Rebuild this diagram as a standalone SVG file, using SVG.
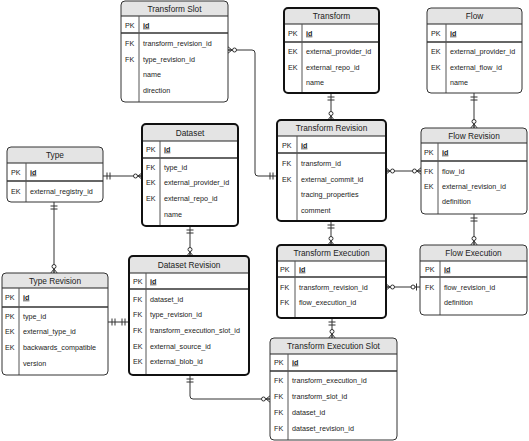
<svg xmlns="http://www.w3.org/2000/svg" width="529" height="441" viewBox="0 0 529 441">
<style>
text{font-family:"Liberation Sans",Arial,sans-serif;fill:#222}
.t{font-size:8.3px;text-anchor:middle}
.k,.f{font-size:7.2px}
.p{font-size:7.2px;font-weight:bold;text-decoration:underline}
.bg{fill:#fff;stroke:none}
.hd{fill:#e4e4e4;stroke:none}
.hl{stroke:#222;stroke-width:1}
.sp{stroke:#666;stroke-width:2}
.dv{stroke:#555;stroke-width:1}
.o1{fill:none;stroke:#333;stroke-width:1}
.o2{fill:none;stroke:#111;stroke-width:2}
.c{fill:none;stroke:#333;stroke-width:1}
</style>
<defs>
<marker id="one" viewBox="-10 -5 11 10" refX="0" refY="0" markerWidth="11" markerHeight="10" markerUnits="userSpaceOnUse" orient="auto-start-reverse"><path d="M-4,-3.5V3.5M-7,-3.5V3.5" fill="none" stroke="#333" stroke-width="1"/></marker>
<marker id="zmany" viewBox="-11 -5 12 10" refX="0" refY="0" markerWidth="12" markerHeight="10" markerUnits="userSpaceOnUse" orient="auto-start-reverse"><path d="M0,-3.2L-4,0L0,3.2M-4,0H0" fill="none" stroke="#333" stroke-width="1"/><circle cx="-6.5" cy="0" r="2" fill="#fff" stroke="#333" stroke-width="1"/></marker>
<marker id="zone" viewBox="-11 -5 12 10" refX="0" refY="0" markerWidth="12" markerHeight="10" markerUnits="userSpaceOnUse" orient="auto-start-reverse"><path d="M-3.5,-3.5V3.5" fill="none" stroke="#333" stroke-width="1"/><circle cx="-7" cy="0" r="2" fill="#fff" stroke="#333" stroke-width="1"/></marker>
</defs>

<g id="connectors">
<path class="c" d="M277,176H258Q255,176 255,173V53Q255,50 252,50H228" marker-start="url(#one)" marker-end="url(#zmany)"/>
<path class="c" d="M331,93V120" marker-start="url(#one)" marker-end="url(#zmany)"/>
<path class="c" d="M474,93V128" marker-start="url(#one)" marker-end="url(#zmany)"/>
<path class="c" d="M386,171H421" marker-start="url(#zmany)" marker-end="url(#zmany)"/>
<path class="c" d="M103,176H142" marker-start="url(#one)" marker-end="url(#zmany)"/>
<path class="c" d="M54,202V273" marker-start="url(#one)" marker-end="url(#zmany)"/>
<path class="c" d="M190,226V256" marker-start="url(#one)" marker-end="url(#zmany)"/>
<path class="c" d="M108,322H129" marker-start="url(#one)" marker-end="url(#one)"/>
<path class="c" d="M331,221V245" marker-start="url(#one)" marker-end="url(#zmany)"/>
<path class="c" d="M474,214V245" marker-start="url(#one)" marker-end="url(#zmany)"/>
<path class="c" d="M386,287H420" marker-start="url(#zmany)" marker-end="url(#zone)"/>
<path class="c" d="M332,318V338" marker-start="url(#one)" marker-end="url(#zmany)"/>
<path class="c" d="M190,375V396Q190,399 193,399H270" marker-start="url(#one)" marker-end="url(#zmany)"/>
</g>

<g id="transform-slot">
<rect class="bg" x="121" y="1" width="107" height="101" rx="4"/>
<path class="hd" d="M121,16V5Q121,1 125,1H224Q228,1 228,5V16Z"/>
<line class="hl" x1="121" y1="16" x2="228" y2="16"/>
<line class="sp" x1="121" y1="33" x2="228" y2="33"/>
<line class="dv" x1="139" y1="16" x2="139" y2="102"/>
<rect class="o1" x="121" y="1" width="107" height="101" rx="4"/>
<text class="t" x="174.5" y="11.5">Transform Slot</text>
<text class="k" x="125" y="27.5">PK</text><text class="p" x="143" y="27.5">id</text>
<text class="k" x="125" y="45.5">FK</text><text class="f" x="143" y="45.5">transform_revision_id</text>
<text class="k" x="125" y="61.5">FK</text><text class="f" x="143" y="61.5">type_revision_id</text>
<text class="f" x="143" y="76.5">name</text>
<text class="f" x="143" y="92.5">direction</text>
</g>

<g id="transform">
<rect class="bg" x="284" y="8" width="95" height="85" rx="4"/>
<path class="hd" d="M284,24V12Q284,8 288,8H375Q379,8 379,12V24Z"/>
<line class="hl" x1="284" y1="24" x2="379" y2="24"/>
<line class="sp" x1="284" y1="42" x2="379" y2="42"/>
<line class="dv" x1="302" y1="24" x2="302" y2="93"/>
<rect class="o2" x="284" y="8" width="95" height="85" rx="4"/>
<text class="t" x="331.5" y="19">Transform</text>
<text class="k" x="288" y="35.5">PK</text><text class="p" x="306" y="35.5">id</text>
<text class="k" x="288" y="53.5">EK</text><text class="f" x="306" y="53.5">external_provider_id</text>
<text class="k" x="288" y="69.5">EK</text><text class="f" x="306" y="69.5">external_repo_id</text>
<text class="f" x="306" y="84.5">name</text>
</g>

<g id="flow">
<rect class="bg" x="427" y="8" width="95" height="85" rx="4"/>
<path class="hd" d="M427,24V12Q427,8 431,8H518Q522,8 522,12V24Z"/>
<line class="hl" x1="427" y1="24" x2="522" y2="24"/>
<line class="sp" x1="427" y1="42" x2="522" y2="42"/>
<line class="dv" x1="446" y1="24" x2="446" y2="93"/>
<rect class="o1" x="427" y="8" width="95" height="85" rx="4"/>
<text class="t" x="474.5" y="19">Flow</text>
<text class="k" x="431" y="35.5">PK</text><text class="p" x="450" y="35.5">id</text>
<text class="k" x="431" y="53.5">EK</text><text class="f" x="450" y="53.5">external_provider_id</text>
<text class="k" x="431" y="69.5">EK</text><text class="f" x="450" y="69.5">external_flow_id</text>
<text class="f" x="450" y="84.5">name</text>
</g>

<g id="type">
<rect class="bg" x="7" y="147" width="96" height="55" rx="4"/>
<path class="hd" d="M7,163V151Q7,147 11,147H99Q103,147 103,151V163Z"/>
<line class="hl" x1="7" y1="163" x2="103" y2="163"/>
<line class="sp" x1="7" y1="181" x2="103" y2="181"/>
<line class="dv" x1="26" y1="163" x2="26" y2="202"/>
<rect class="o1" x="7" y="147" width="96" height="55" rx="4"/>
<text class="t" x="55" y="158">Type</text>
<text class="k" x="11" y="174.5">PK</text><text class="p" x="30" y="174.5">id</text>
<text class="k" x="11" y="193.5">EK</text><text class="f" x="30" y="193.5">external_registry_id</text>
</g>

<g id="dataset">
<rect class="bg" x="142" y="124" width="96" height="102" rx="4"/>
<path class="hd" d="M142,141V128Q142,124 146,124H234Q238,124 238,128V141Z"/>
<line class="hl" x1="142" y1="141" x2="238" y2="141"/>
<line class="sp" x1="142" y1="158" x2="238" y2="158"/>
<line class="dv" x1="160" y1="141" x2="160" y2="226"/>
<rect class="o2" x="142" y="124" width="96" height="102" rx="4"/>
<text class="t" x="190" y="135.5">Dataset</text>
<text class="k" x="146" y="151.5">PK</text><text class="p" x="164" y="151.5">id</text>
<text class="k" x="146" y="169.5">FK</text><text class="f" x="164" y="169.5">type_id</text>
<text class="k" x="146" y="184.5">EK</text><text class="f" x="164" y="184.5">external_provider_id</text>
<text class="k" x="146" y="200.5">EK</text><text class="f" x="164" y="200.5">external_repo_id</text>
<text class="f" x="164" y="216.5">name</text>
</g>

<g id="transform-revision">
<rect class="bg" x="277" y="120" width="109" height="101" rx="4"/>
<path class="hd" d="M277,136V124Q277,120 281,120H382Q386,120 386,124V136Z"/>
<line class="hl" x1="277" y1="136" x2="386" y2="136"/>
<line class="sp" x1="277" y1="153" x2="386" y2="153"/>
<line class="dv" x1="297" y1="136" x2="297" y2="221"/>
<rect class="o2" x="277" y="120" width="109" height="101" rx="4"/>
<text class="t" x="331.5" y="131">Transform Revision</text>
<text class="k" x="282" y="147.5">PK</text><text class="p" x="301" y="147.5">id</text>
<text class="k" x="282" y="165.5">FK</text><text class="f" x="301" y="165.5">transform_id</text>
<text class="k" x="282" y="181.5">EK</text><text class="f" x="301" y="181.5">external_commit_id</text>
<text class="f" x="301" y="196.5">tracing_properties</text>
<text class="f" x="301" y="212.5">comment</text>
</g>

<g id="flow-revision">
<rect class="bg" x="421" y="128" width="106" height="86" rx="4"/>
<path class="hd" d="M421,143V132Q421,128 425,128H523Q527,128 527,132V143Z"/>
<line class="hl" x1="421" y1="143" x2="527" y2="143"/>
<line class="sp" x1="421" y1="161" x2="527" y2="161"/>
<line class="dv" x1="438" y1="143" x2="438" y2="214"/>
<rect class="o1" x="421" y="128" width="106" height="86" rx="4"/>
<text class="t" x="474" y="138.5">Flow Revision</text>
<text class="k" x="424" y="154.5">PK</text><text class="p" x="442" y="154.5">id</text>
<text class="k" x="424" y="173.5">FK</text><text class="f" x="442" y="173.5">flow_id</text>
<text class="k" x="424" y="188.5">EK</text><text class="f" x="442" y="188.5">external_revision_id</text>
<text class="f" x="442" y="203.5">definition</text>
</g>

<g id="type-revision">
<rect class="bg" x="2" y="273" width="106" height="102" rx="4"/>
<path class="hd" d="M2,288V277Q2,273 6,273H104Q108,273 108,277V288Z"/>
<line class="hl" x1="2" y1="288" x2="108" y2="288"/>
<line class="sp" x1="2" y1="307" x2="108" y2="307"/>
<line class="dv" x1="19" y1="288" x2="19" y2="375"/>
<rect class="o1" x="2" y="273" width="106" height="102" rx="4"/>
<text class="t" x="55" y="283.5">Type Revision</text>
<text class="k" x="5" y="299.5">PK</text><text class="p" x="23" y="299.5">id</text>
<text class="k" x="5" y="318.5">PK</text><text class="f" x="23" y="318.5">type_id</text>
<text class="k" x="5" y="333.5">EK</text><text class="f" x="23" y="333.5">external_type_id</text>
<text class="k" x="5" y="349.5">EK</text><text class="f" x="23" y="349.5">backwards_compatible</text>
<text class="f" x="23" y="365.5">version</text>
</g>

<g id="dataset-revision">
<rect class="bg" x="129" y="256" width="120" height="119" rx="4"/>
<path class="hd" d="M129,273V260Q129,256 133,256H245Q249,256 249,260V273Z"/>
<line class="hl" x1="129" y1="273" x2="249" y2="273"/>
<line class="sp" x1="129" y1="289" x2="249" y2="289"/>
<line class="dv" x1="146" y1="273" x2="146" y2="375"/>
<rect class="o2" x="129" y="256" width="120" height="119" rx="4"/>
<text class="t" x="189" y="267.5">Dataset Revision</text>
<text class="k" x="133" y="283.5">PK</text><text class="p" x="150" y="283.5">id</text>
<text class="k" x="133" y="301.5">FK</text><text class="f" x="150" y="301.5">dataset_id</text>
<text class="k" x="133" y="316.5">FK</text><text class="f" x="150" y="316.5">type_revision_id</text>
<text class="k" x="133" y="332.5">FK</text><text class="f" x="150" y="332.5">transform_execution_slot_id</text>
<text class="k" x="133" y="348.5">EK</text><text class="f" x="150" y="348.5">external_source_id</text>
<text class="k" x="133" y="363.5">EK</text><text class="f" x="150" y="363.5">external_blob_id</text>
</g>

<g id="transform-execution">
<rect class="bg" x="277" y="245" width="109" height="73" rx="4"/>
<path class="hd" d="M277,261V249Q277,245 281,245H382Q386,245 386,249V261Z"/>
<line class="hl" x1="277" y1="261" x2="386" y2="261"/>
<line class="sp" x1="277" y1="277" x2="386" y2="277"/>
<line class="dv" x1="295" y1="261" x2="295" y2="318"/>
<rect class="o2" x="277" y="245" width="109" height="73" rx="4"/>
<text class="t" x="331.5" y="256">Transform Execution</text>
<text class="k" x="280" y="271.5">PK</text><text class="p" x="299" y="271.5">id</text>
<text class="k" x="280" y="289.5">FK</text><text class="f" x="299" y="289.5">transform_revision_id</text>
<text class="k" x="280" y="304.5">FK</text><text class="f" x="299" y="304.5">flow_execution_id</text>
</g>

<g id="flow-execution">
<rect class="bg" x="420" y="245" width="107" height="70" rx="4"/>
<path class="hd" d="M420,261V249Q420,245 424,245H523Q527,245 527,249V261Z"/>
<line class="hl" x1="420" y1="261" x2="527" y2="261"/>
<line class="sp" x1="420" y1="277" x2="527" y2="277"/>
<line class="dv" x1="440" y1="261" x2="440" y2="315"/>
<rect class="o1" x="420" y="245" width="107" height="70" rx="4"/>
<text class="t" x="473.5" y="256">Flow Execution</text>
<text class="k" x="425" y="271.5">PK</text><text class="p" x="444" y="271.5">id</text>
<text class="k" x="425" y="289.5">FK</text><text class="f" x="444" y="289.5">flow_revision_id</text>
<text class="f" x="444" y="304.5">definition</text>
</g>

<g id="transform-execution-slot">
<rect class="bg" x="270" y="338" width="127" height="102" rx="4"/>
<path class="hd" d="M270,354V342Q270,338 274,338H393Q397,338 397,342V354Z"/>
<line class="hl" x1="270" y1="354" x2="397" y2="354"/>
<line class="sp" x1="270" y1="371" x2="397" y2="371"/>
<line class="dv" x1="288" y1="354" x2="288" y2="440"/>
<rect class="o1" x="270" y="338" width="127" height="102" rx="4"/>
<text class="t" x="333.5" y="349">Transform Execution Slot</text>
<text class="k" x="274" y="364.5">PK</text><text class="p" x="292" y="364.5">id</text>
<text class="k" x="274" y="382.5">FK</text><text class="f" x="292" y="382.5">transform_execution_id</text>
<text class="k" x="274" y="398.5">FK</text><text class="f" x="292" y="398.5">transform_slot_id</text>
<text class="k" x="274" y="414.5">FK</text><text class="f" x="292" y="414.5">dataset_id</text>
<text class="k" x="274" y="430.5">FK</text><text class="f" x="292" y="430.5">dataset_revision_id</text>
</g>
</svg>
